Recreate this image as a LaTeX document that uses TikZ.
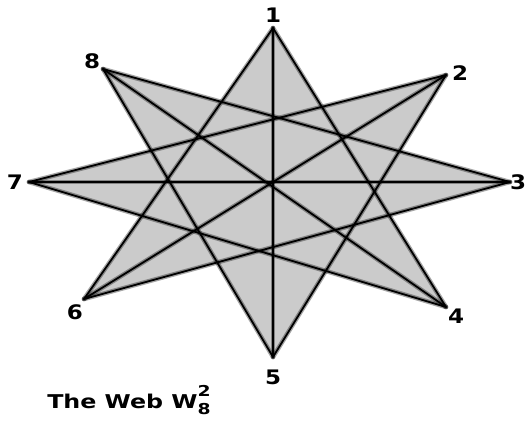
\documentclass[tikz,border=0pt]{standalone}
\usepackage{fontspec}
\setmainfont{DejaVu Sans}
\definecolor{starfill}{RGB}{203,203,203}
\definecolor{shade}{RGB}{150,150,150}
\begin{document}
\begin{tikzpicture}[x=1pt,y=-1pt,
  edge/.style={black,line width=1.8pt,line cap=round,line join=round},
  halo/.style={shade,line width=4.5pt,line cap=round},
  lbl/.style={font=\bfseries\fontsize{20}{20}\selectfont,inner sep=0pt,xscale=1.15}]
\useasboundingbox (0,0) rectangle (526,421);
\coordinate (v1) at (273,28);
\coordinate (v2) at (446,75);
\coordinate (v3) at (510,182);
\coordinate (v4) at (446,307);
\coordinate (v5) at (273,357);
\coordinate (v6) at (84,299);
\coordinate (v7) at (29,182);
\coordinate (v8) at (103,69);
\fill[starfill] (v1)--(v4)--(v7)--(v2)--(v5)--(v8)--(v3)--(v6)--cycle;
\foreach \a/\b in {v1/v4,v4/v7,v7/v2,v2/v5,v5/v8,v8/v3,v3/v6,v6/v1,v1/v5,v3/v7,v2/v6,v4/v8}
  \draw[halo,opacity=0.35] (\a)--(\b);
\foreach \a/\b in {v1/v4,v4/v7,v7/v2,v2/v5,v5/v8,v8/v3,v3/v6,v6/v1,v1/v5,v3/v7,v2/v6,v4/v8}
  \draw[edge] (\a)--(\b);
\node[lbl] (l1) at (273,15) {1};
\node[lbl] (l2) at (460,73) {2};
\node[lbl] (l3) at (518,182) {3};
\node[lbl] (l4) at (456,316) {4};
\node[lbl] (l5) at (273,377) {5};
\node[lbl] (l6) at (75,312) {6};
\node[lbl] (l7) at (15,182) {7};
\node[lbl] (l8) at (92,61) {8};
\node[anchor=base west,inner sep=0pt,xscale=1.25,font=\bfseries\fontsize{19}{19}\selectfont] (title) at (47,408)
  {The Web W\rlap{\raisebox{0.6em}{\fontsize{15}{15}\selectfont 2}}\raisebox{-0.32em}{\fontsize{15}{15}\selectfont 8}};
\end{tikzpicture}
\end{document}
